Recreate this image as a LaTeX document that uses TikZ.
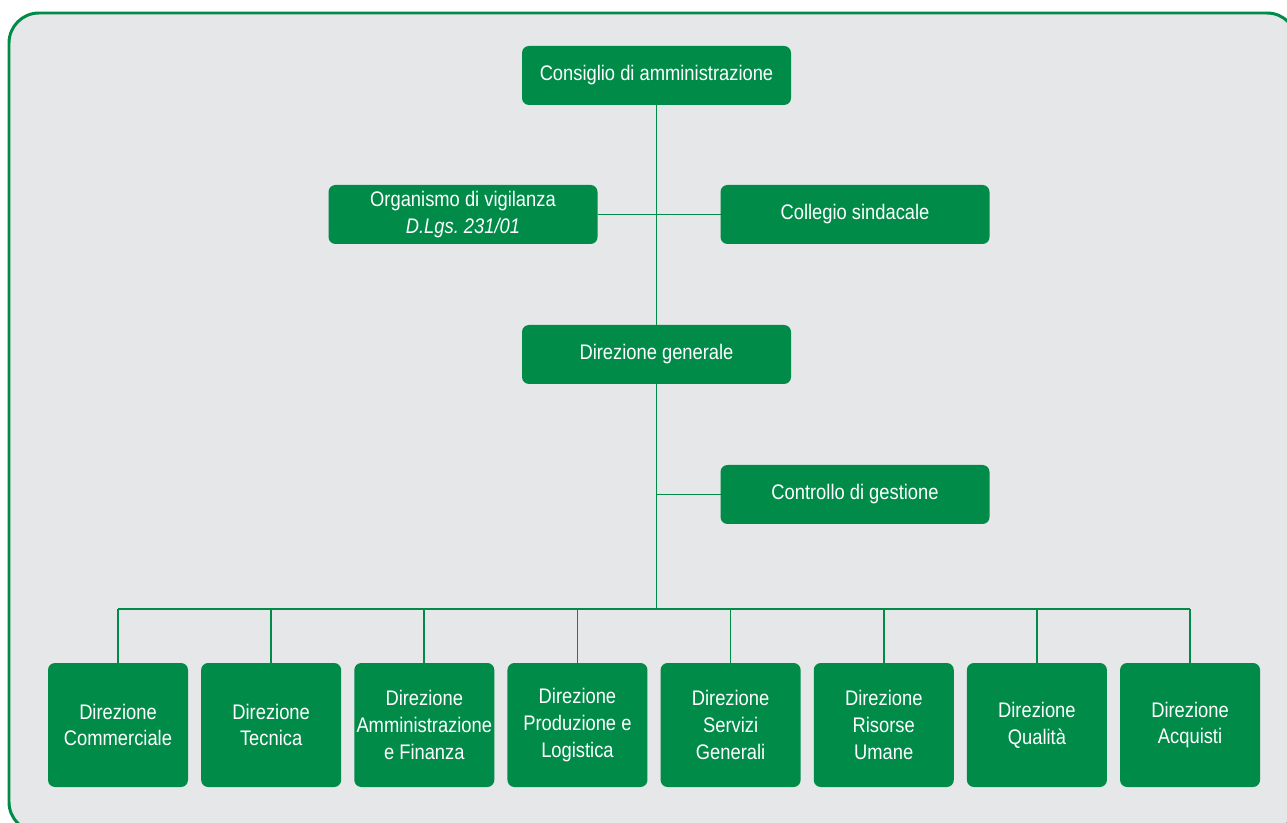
\documentclass[tikz,border=0pt]{standalone}
\usepackage{fontspec}
\setmainfont[FakeStretch=0.87]{Liberation Sans}
\usepackage{tikz}
\usetikzlibrary{positioning,calc}
\definecolor{orggreen}{RGB}{0,140,72}
\definecolor{panelgrey}{RGB}{230,231,232}
\frenchspacing
\tikzset{
  unit/.style={rectangle,rounded corners=0.14cm,fill=orggreen,text=white,
    align=center,font=\fontsize{12}{15.3}\selectfont,inner sep=2pt,outer sep=0pt},
  topunit/.style={unit,minimum width=5.38cm,minimum height=1.18cm},
  dirunit/.style={unit,minimum width=2.8cm,minimum height=2.48cm,inner xsep=0pt},
  orgline/.style={draw=orggreen,line width=1pt}
}

\begin{document}
\begin{tikzpicture}
  \useasboundingbox (0,0) rectangle (25.74,-16.46);
  \draw[orggreen,fill=panelgrey,line width=1.7pt,rounded corners=0.6cm]
    (0.18,-0.26) rectangle (25.94,-16.64);
  % vertici
  \node[topunit] (cda) at (13.13,-1.51) {Consiglio di amministrazione};
  \node[topunit] (odv) at (9.26,-4.29) {Organismo di vigilanza\\\textit{D.Lgs. 231/01}};
  \node[topunit] (csi) at (17.1,-4.29) {Collegio sindacale};
  \node[topunit] (dg) at (13.13,-7.09) {Direzione generale};
  \node[topunit] (cdg) at (17.1,-9.89) {Controllo di gestione};
  % direzioni
  \node[dirunit] (dcom) at (2.36,-14.5) {Direzione\\Commerciale};
  \node[dirunit, right=0.263cm of dcom] (dtec) {Direzione\\Tecnica};
  \node[dirunit, right=0.263cm of dtec] (dafi) {Direzione\\Amministrazione\\e Finanza};
  \node[dirunit, right=0.263cm of dafi] (dprl) {Direzione\\Produzione e\\Logistica};
  \node[dirunit, right=0.263cm of dprl] (dsgn) {Direzione\\Servizi\\Generali};
  \node[dirunit, right=0.263cm of dsgn] (drum) {Direzione\\Risorse\\Umane};
  \node[dirunit, right=0.263cm of drum] (dqua) {Direzione\\Qualità};
  \node[dirunit, right=0.263cm of dqua] (dacq) {Direzione\\Acquisti};
  \coordinate (bus) at (dg.south |- 0,-12.18);
  % collegamenti
  \draw[orgline] (cda.south) -- (dg.north);
  \draw[orgline] (odv.east) -- (csi.west);
  \draw[orgline] (dg.south) -- (bus);
  \draw[orgline] (cdg.west) -- (cdg.west -| dg.south);
  \draw[orgline] (dcom.north |- bus) -- (dacq.north |- bus);
  \draw[orgline] (dcom.north) -- (dcom.north |- bus)
    (dtec.north) -- (dtec.north |- bus)
    (dafi.north) -- (dafi.north |- bus)
    (dprl.north) -- (dprl.north |- bus)
    (dsgn.north) -- (dsgn.north |- bus)
    (drum.north) -- (drum.north |- bus)
    (dqua.north) -- (dqua.north |- bus)
    (dacq.north) -- (dacq.north |- bus);
\end{tikzpicture}
\end{document}
